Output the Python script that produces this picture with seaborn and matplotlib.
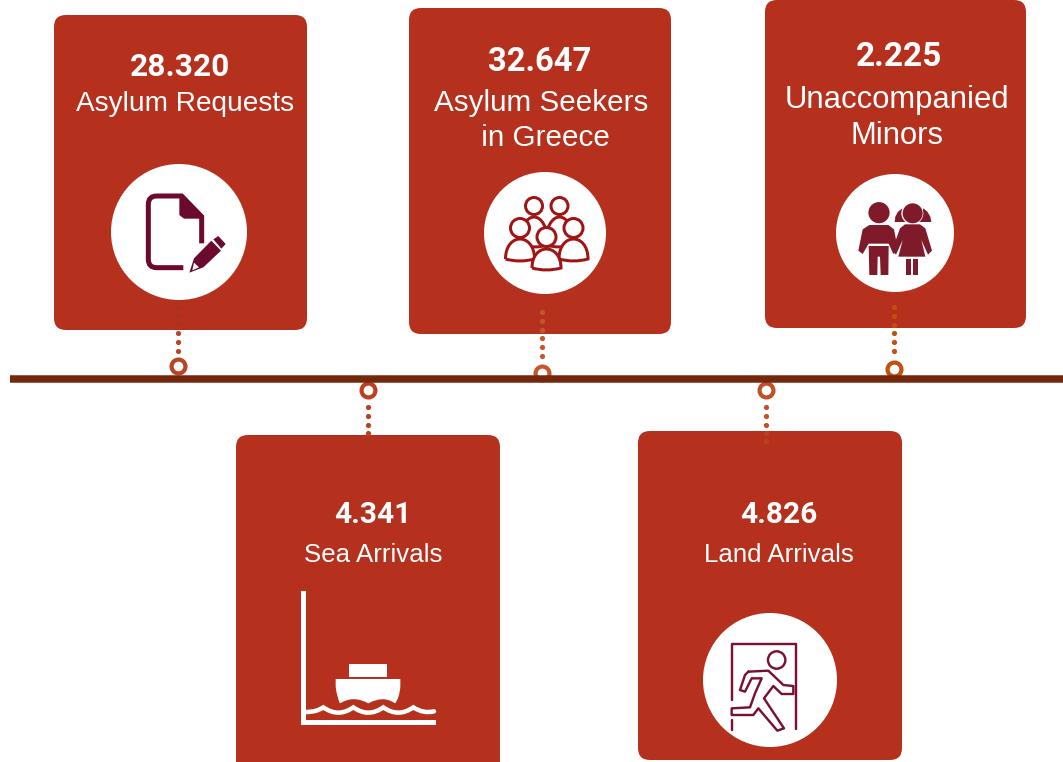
"""Timeline infographic of asylum figures for Greece, drawn on a pixel canvas."""

import pandas as pd
import seaborn as sns
import matplotlib.pyplot as plt
from matplotlib.patches import Circle, FancyBboxPatch, PathPatch, Polygon
from matplotlib.path import Path

VALUES = ["28.320", "32.647", "2.225", "4.341", "4.826"]
LABELS = ["Asylum Requests", "Asylum Seekers\n in Greece", "Unaccompanied\nMinors",
          "Sea Arrivals", "Land Arrivals"]

# layout, in pixels of the 1063x762 canvas
CARDS = [(54, 15, 253, 315), (409, 8, 262, 326), (765, 0, 261, 328),
         (236, 435, 264, 340), (638, 431, 264, 329)]
VALUE_POS = [(180, 67), (540, 62), (899, 57), (373, 515), (779, 515)]
LABEL_POS = [(185, 104), (541, 120.5), (897, 118), (373, 555), (779, 555)]
VALUE_SIZE = [22.8, 23.6, 24, 21.5, 21.5]
LABEL_SIZE = [20.2, 21.3, 22.3, 18.6, 18.6]
RING_X = [178, 542, 894, 368, 766]
RING_Y = [366, 373, 369, 390, 390]
DOT_Y = [[333, 342, 351], [338, 347, 356], [333, 342, 351],
         [407, 416, 425, 433], [407, 416, 425]]
FAINT_DOT_Y = [[307, 315, 323], [312, 321, 330], [307, 316, 325],
               [441, 450], [433, 441]]

CARD_RED = "#b5311e"
CONNECTOR_COLORS = ["#bb4422", "#c4582c", "#c2500f", "#bc3f22", "#c05028"]
FAINT_COLORS = ["#a8341c", "#bd5a28", "#bf4f10", "#ab361c", "#b4451f"]
LINE_BROWN = "#76280f"
DOC_WINE = "#6b0a2e"
PEOPLE_RED = "#a01414"
KIDS_WINE = "#7f1a2b"
RUN_WINE = "#7a1030"

sns.set_theme(style="white")
plt.rcParams["font.family"] = ["Liberation Sans", "DejaVu Sans"]

PX = 0.72  # one canvas pixel in points at dpi=100


def zoomed(points, x0, y0):
    """Icons were measured on 3x crops; bring them back to canvas pixels."""
    return [(x0 + x / 3, y0 + y / 3) for x, y in points]


def line(ax, points, color, width, closed=False):
    verts = list(points) + ([points[0]] if closed else [])
    codes = [Path.MOVETO] + [Path.LINETO] * (len(verts) - 1)
    ax.add_patch(PathPatch(Path(verts, codes), fc="none", ec=color, lw=width * PX,
                           joinstyle="round", capstyle="round", zorder=5))


def smooth(ax, points, color, width):
    """Quadratic curve through alternating off/on-curve points."""
    codes = [Path.MOVETO] + [Path.CURVE3] * (len(points) - 1)
    ax.add_patch(PathPatch(Path(points, codes), fc="none", ec=color, lw=width * PX,
                           capstyle="round", zorder=5))


def doc_icon(ax):
    x0, y0 = 50, 150
    verts = zoomed([(455, 280), (455, 200), (395, 138), (320, 138), (295, 138),
                    (295, 163), (295, 328), (295, 353), (320, 353), (400, 353)], x0, y0)
    codes = [Path.MOVETO, Path.LINETO, Path.LINETO, Path.LINETO, Path.CURVE3,
             Path.CURVE3, Path.LINETO, Path.CURVE3, Path.CURVE3, Path.LINETO]
    ax.add_patch(PathPatch(Path(verts, codes), fc="none", ec=DOC_WINE, lw=5 * PX,
                           capstyle="butt", zorder=5))
    ax.add_patch(Polygon(zoomed([(388, 135), (462, 197), (462, 206), (402, 206), (388, 195)], x0, y0),
                         fc=DOC_WINE, ec="none", zorder=5))
    ax.add_patch(Polygon(zoomed([(432, 325), (484, 272), (513, 302), (460, 352), (418, 368)], x0, y0),
                         fc=DOC_WINE, ec="none", zorder=5))
    ax.add_patch(Polygon(zoomed([(490, 268), (505, 258), (527, 282), (514, 296)], x0, y0),
                         fc=DOC_WINE, ec="none", zorder=5))
    ax.add_patch(Polygon(zoomed([(432, 338), (447, 352), (427, 361)], x0, y0),
                         fc="white", ec="none", zorder=6))


def person(ax, head, head_r, body_w, body_top, body_bottom):
    x = head[0]
    ctrl = body_bottom - (body_bottom - body_top) / 0.75
    verts = [(x - body_w, body_bottom), (x - body_w, ctrl), (x + body_w, ctrl),
             (x + body_w, body_bottom), (x, body_bottom + 4), (x - body_w, body_bottom)]
    codes = [Path.MOVETO, Path.CURVE4, Path.CURVE4, Path.CURVE4, Path.CURVE3, Path.CURVE3]
    ax.add_patch(PathPatch(Path(verts, codes), fc="white", ec=PEOPLE_RED, lw=3 * PX, zorder=5))
    ax.add_patch(Circle(head, head_r, fc="white", ec=PEOPLE_RED, lw=3 * PX, zorder=5))


def people_icon(ax):
    person(ax, (534, 206), 8.5, 14, 217, 245)
    person(ax, (559.5, 206), 8.5, 14, 217, 245)
    person(ax, (520, 228), 9.5, 14.5, 239, 259)
    person(ax, (573.5, 228), 9.5, 14.5, 239, 259)
    person(ax, (546.5, 237), 9.5, 14.5, 249, 268)


def kids_icon(ax):
    x0, y0 = 810, 160
    fill = dict(fc=KIDS_WINE, ec="none", zorder=5)
    # pigtails sit behind the girl's head
    ax.add_patch(Polygon(zoomed([(254, 186), (256, 170), (264, 155), (277, 145), (290, 186)], x0, y0), **fill))
    ax.add_patch(Polygon(zoomed([(325, 186), (340, 145), (352, 155), (361, 170), (364, 186)], x0, y0), **fill))
    ax.add_patch(Circle(zoomed([(307, 160)], x0, y0)[0], 11, fc="white", ec="none", zorder=5))
    ax.add_patch(Circle(zoomed([(207, 158)], x0, y0)[0], 10.6, **fill))
    ax.add_patch(Circle(zoomed([(308, 160)], x0, y0)[0], 10, **fill))
    # boy
    ax.add_patch(Polygon(zoomed([(178, 195), (235, 195), (252, 208), (264, 270), (250, 282),
                                 (236, 251), (176, 251), (158, 282), (145, 272), (158, 208)], x0, y0), **fill))
    ax.add_patch(Polygon(zoomed([(176, 258), (236, 258), (235, 345), (212, 345), (210, 290),
                                 (203, 290), (202, 345), (178, 345)], x0, y0), **fill))
    # girl
    ax.add_patch(Polygon(zoomed([(285, 193), (330, 193), (346, 205), (366, 272), (354, 284),
                                 (334, 240), (346, 290), (265, 290), (278, 240), (258, 284),
                                 (246, 272), (270, 205)], x0, y0), **fill))
    ax.add_patch(Polygon(zoomed([(287, 296), (303, 296), (303, 346), (287, 346)], x0, y0), **fill))
    ax.add_patch(Polygon(zoomed([(309, 296), (325, 296), (325, 346), (309, 346)], x0, y0), **fill))


def ship_icon(ax):
    x0, y0 = 280, 570
    fill = dict(fc="white", ec="none", zorder=5)
    ax.add_patch(Polygon(zoomed([(62, 63), (78, 63), (78, 450), (467, 450), (467, 466), (62, 466)], x0, y0), **fill))
    ax.add_patch(Polygon(zoomed([(207, 282), (322, 282), (322, 322), (207, 322)], x0, y0), **fill))
    hull = zoomed([(167, 327), (361, 327), (361, 350), (358, 385), (345, 400), (310, 375),
                   (265, 400), (220, 375), (180, 400), (170, 380), (167, 350), (167, 327)], x0, y0)
    codes = [Path.MOVETO, Path.LINETO, Path.LINETO, Path.CURVE3, Path.CURVE3, Path.CURVE3,
             Path.CURVE3, Path.CURVE3, Path.CURVE3, Path.CURVE3, Path.CURVE3, Path.LINETO]
    ax.add_patch(PathPatch(Path(hull, codes), **fill))
    wave = zoomed([(78, 426), (110, 426), (130, 412), (175, 444), (220, 412), (265, 444),
                   (310, 412), (355, 444), (400, 412), (430, 432), (462, 424)], x0, y0)
    smooth(ax, wave, "white", 4.5)


def runner_icon(ax):
    x0, y0 = 690, 600
    line(ax, zoomed([(125, 300), (125, 133), (317, 133), (317, 388)], x0, y0), RUN_WINE, 2.4)
    line(ax, zoomed([(125, 360), (125, 390)], x0, y0), RUN_WINE, 2.4)
    ax.add_patch(Circle(zoomed([(260, 180)], x0, y0)[0], 8.7, fc="none", ec=RUN_WINE, lw=2.4 * PX, zorder=5))
    body = [(175, 215), (235, 212), (280, 255), (310, 258), (310, 282), (275, 282), (250, 258),
            (222, 295), (282, 385), (262, 392), (205, 325), (190, 345), (125, 345), (125, 325),
            (180, 322), (195, 280), (215, 235), (185, 235), (165, 275), (150, 270), (165, 225)]
    line(ax, zoomed(body, x0, y0), RUN_WINE, 2.4, closed=True)


def main():
    fig = plt.figure(figsize=(10.63, 7.62), dpi=100, facecolor="white")
    ax = fig.add_axes([0, 0, 1, 1])

    for (x, y, w, h) in CARDS:
        ax.add_patch(FancyBboxPatch((x, y), w, h, boxstyle="round,pad=0,rounding_size=12",
                                    fc=CARD_RED, ec="none", zorder=1))

    # connectors: dots outside the cards are bright, those over a card fade in
    for x, ring_y, ys, faint_ys, color, faint_color in zip(RING_X, RING_Y, DOT_Y, FAINT_DOT_Y,
                                                           CONNECTOR_COLORS, FAINT_COLORS):
        faint = pd.DataFrame({"x": x, "y": faint_ys})
        dots = pd.DataFrame({"x": x, "y": ys})
        sns.scatterplot(data=faint, x="x", y="y", s=14, color=faint_color, linewidth=0, ax=ax, zorder=2)
        sns.scatterplot(data=dots, x="x", y="y", s=14, color=color, linewidth=0, ax=ax, zorder=2)
        sns.scatterplot(x=[x], y=[ring_y], s=100, color="white", edgecolor=color,
                        linewidth=3, ax=ax, zorder=2)

    timeline = sns.lineplot(x=[10, 1063], y=[379, 379], color=LINE_BROWN,
                            linewidth=7.5 * PX, ax=ax, zorder=3)
    timeline.lines[-1].set_solid_capstyle("butt")

    ax.add_patch(Circle((179, 232), 68, fc="white", ec="none", zorder=4))
    ax.add_patch(Circle((545, 233), 61, fc="white", ec="none", zorder=4))
    ax.add_patch(Circle((895, 233), 59, fc="white", ec="none", zorder=4))
    ax.add_patch(Circle((770, 680), 67, fc="white", ec="none", zorder=4))

    doc_icon(ax)
    people_icon(ax)
    kids_icon(ax)
    ship_icon(ax)
    runner_icon(ax)

    for i, (value, label) in enumerate(zip(VALUES, LABELS)):
        ax.text(*VALUE_POS[i], value, color="white", ha="center", va="center", fontweight="bold",
                fontsize=VALUE_SIZE[i], family=["Roboto", "DejaVu Sans"], zorder=6)
        ax.text(*LABEL_POS[i], label, color="white", ha="center", va="center", linespacing=1.3,
                fontsize=LABEL_SIZE[i], family=["Liberation Sans"], zorder=6)

    ax.set_xlim(0, 1063)
    ax.set_ylim(762, 0)
    ax.axis("off")
    fig.savefig("out.png", dpi=100)


if __name__ == "__main__":
    main()
